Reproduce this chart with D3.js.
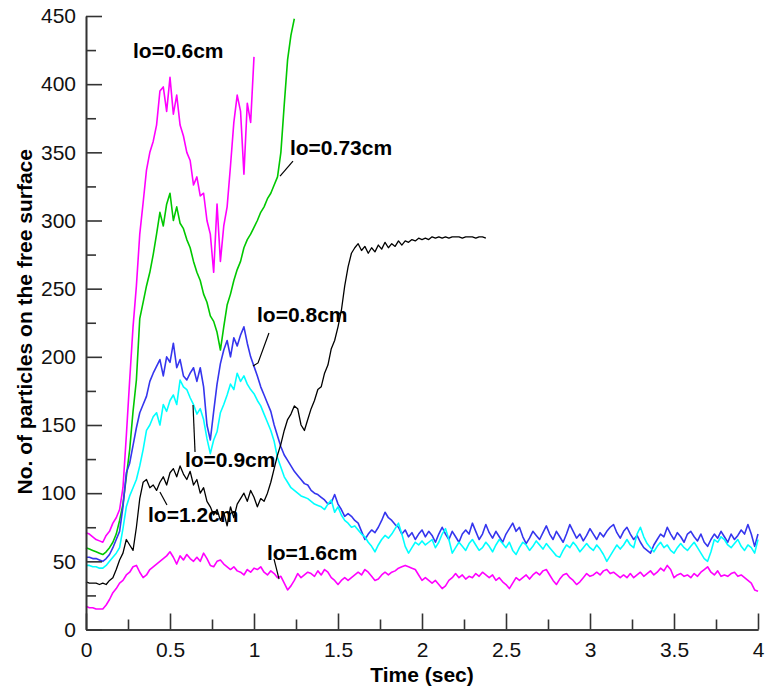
<!DOCTYPE html>
<html>
<head>
<meta charset="utf-8">
<script src="https://cdn.jsdelivr.net/npm/d3@7"></script>
<style>
  body { margin: 0; background: #fff; }
  text { font-family: "Liberation Sans", Arial, Helvetica, sans-serif; }
</style>
</head>
<body>
<div class="chart"></div>
<script>
// particles on the free surface vs time, one series per lo
// all series sampled every 0.02 s starting at t = 0
const dt = 0.02;

const lo06 = [71, 70, 68, 66, 65, 64, 69, 72, 78, 82, 88,
  104, 142, 183, 222, 252, 290, 313, 337, 350, 358,
  370, 395, 398, 380, 405, 378, 392, 370, 362, 350,
  344, 326, 332, 318, 320, 300, 290, 262, 312, 270,
  296, 310, 340, 372, 392, 380, 334, 386, 372, 420];

const lo073 = [60, 59, 58, 57, 56, 55, 57, 60, 64, 70, 80,
  92, 112, 132, 160, 183, 228, 240, 252, 262, 275,
  290, 306, 296, 312, 320, 300, 310, 298, 294, 286,
  280, 270, 262, 256, 246, 240, 230, 226, 218, 205,
  222, 238, 246, 256, 264, 270, 280, 286, 290, 295,
  300, 306, 310, 316, 320, 326, 332, 350, 385, 418,
  436, 448];

const lo08 = [53, 53, 52, 52, 51, 50, 52, 55, 60, 66, 72,
  90, 115, 122, 135, 148, 159, 165, 171, 182, 188,
  193, 198, 186, 200, 196, 210, 192, 198, 186, 183,
  188, 192, 182, 192, 178, 150, 139, 160, 180, 195,
  205, 212, 200, 214, 208, 216, 222, 210, 200, 193,
  186, 178, 172, 166, 160, 150, 142, 134, 128, 124,
  120, 116, 113, 110, 107, 106, 102, 100, 99, 97,
  95, 92, 93, 99, 92, 88, 83, 85, 83, 80,
  78, 72, 66, 70, 73, 71, 75, 80, 86, 82,
  80, 77, 75, 70, 73, 68, 71, 66, 70, 73,
  68, 72, 69, 64, 70, 75, 70, 66, 72, 68,
  64, 70, 73, 70, 78, 72, 66, 70, 77, 71,
  67, 72, 68, 64, 70, 74, 78, 72, 75, 68,
  63, 67, 72, 69, 66, 71, 76, 70, 66, 72,
  68, 64, 70, 77, 72, 67, 70, 65, 69, 74,
  70, 66, 71, 68, 72, 75, 77, 71, 67, 72,
  75, 70, 66, 69, 64, 60, 58, 56, 62, 66,
  70, 68, 75, 70, 66, 71, 68, 64, 70, 72,
  68, 65, 70, 64, 61, 66, 70, 67, 72, 68,
  64, 70, 66, 69, 73, 70, 77, 70, 61, 70];

const lo09 = [47, 47, 46, 46, 45, 45, 47, 50, 53, 56, 60,
  74, 90, 98, 104, 110, 120, 132, 146, 150, 156,
  159, 150, 165, 160, 168, 172, 165, 183, 178, 176,
  170, 165, 158, 162, 154, 140, 129, 139, 145, 159,
  165, 172, 180, 176, 188, 182, 186, 180, 176, 173,
  168, 164, 158, 152, 146, 138, 126, 119, 112, 108,
  104, 102, 100, 98, 97, 96, 94, 92, 91, 90,
  88, 92, 95, 86, 90, 84, 80, 78, 75, 76,
  73, 70, 68, 64, 61, 57, 62, 66, 69, 67,
  70, 74, 78, 70, 61, 56, 60, 64, 62, 65,
  62, 64, 66, 60, 64, 70, 74, 66, 56, 60,
  64, 61, 58, 63, 66, 62, 58, 60, 64, 61,
  57, 62, 66, 63, 60, 64, 58, 55, 60, 64,
  62, 58, 61, 65, 62, 59, 63, 60, 57, 54,
  53, 58, 62, 60, 64, 61, 57, 60, 63, 60,
  58, 62, 59, 55, 50, 54, 58, 62, 59, 62,
  66, 62, 60, 70, 75, 68, 63, 60, 57, 61,
  64, 60, 62, 58, 56, 60, 63, 60, 58, 61,
  64, 60, 56, 52, 50, 57, 66, 64, 68, 66,
  62, 60, 63, 66, 61, 58, 62, 60, 56, 66];

const lo12 = [35, 34, 34, 34, 33, 34, 33, 36, 38, 44, 51,
  56, 66, 62, 58, 75, 96, 108, 110, 104, 106,
  102, 108, 112, 106, 115, 118, 112, 120, 114, 110,
  116, 106, 110, 100, 104, 94, 90, 84, 88, 80,
  86, 76, 90, 82, 92, 96, 100, 94, 102, 97,
  90, 96, 94, 100, 108, 118, 128, 136, 146, 154,
  158, 164, 162, 150, 146, 154, 162, 168, 176, 178,
  188, 194, 206, 212, 222, 234, 252, 266, 276, 280,
  283, 278, 281, 276, 280, 277, 282, 279, 284, 280,
  283, 281, 285, 282, 285, 284, 286, 285, 287, 286,
  287, 286, 288, 287, 288, 287, 288, 287, 288, 288,
  288, 287, 288, 288, 288, 287, 288, 288, 287];

const lo16 = [17, 16, 16, 15, 15, 15, 18, 22, 27, 30, 34,
  36, 40, 42, 46, 47, 42, 38, 40, 44, 46,
  48, 50, 52, 54, 57, 53, 48, 54, 51, 55,
  52, 50, 53, 50, 56, 52, 47, 46, 50, 51,
  48, 46, 44, 46, 43, 42, 40, 44, 42, 45,
  44, 46, 42, 40, 43, 41, 38, 39, 34, 29,
  32, 36, 41, 38, 40, 42, 41, 39, 43, 40,
  44, 42, 38, 36, 33, 36, 38, 36, 38, 40,
  42, 40, 44, 42, 39, 36, 37, 40, 42, 40,
  42, 43, 45, 46, 47, 46, 45, 44, 40, 36,
  38, 36, 34, 36, 33, 30, 32, 36, 38, 41,
  38, 40, 37, 39, 38, 41, 39, 42, 40, 38,
  40, 36, 38, 35, 33, 30, 34, 38, 36, 38,
  40, 37, 40, 42, 40, 43, 44, 40, 36, 33,
  37, 40, 41, 38, 36, 33, 35, 38, 41, 39,
  40, 42, 40, 43, 44, 41, 42, 40, 38, 40,
  38, 41, 38, 40, 42, 39, 41, 43, 40, 42,
  45, 43, 47, 44, 38, 40, 41, 39, 40, 38,
  41, 39, 42, 44, 46, 42, 40, 43, 39, 40,
  39, 41, 42, 39, 40, 38, 36, 34, 29, 28];

const seriesNames = ["lo=0.6cm", "lo=0.73cm", "lo=0.8cm", "lo=0.9cm", "lo=1.2cm", "lo=1.6cm"];
const seriesValues = [lo06, lo073, lo08, lo09, lo12, lo16];
const seriesColors = ["#ff00ff", "#00c800", "#3535ee", "#00ffff", "#000000", "#ff00ff"];

// label anchors (time, count) and leader lines in data units
const labelPos = [[0.28, 419], [1.214, 348], [1.018, 225.6], [0.589, 119.2], [0.369, 78.9], [1.077, 51]];
const leaders = [
  null,
  [[1.232, 343.6], [1.155, 332.6]],
  [[1.089, 217.5], [1.024, 195.5], [0.994, 193.3]],
  [[0.637, 164.7], [0.649, 130.2]],
  [[0.44, 100.9], [0.482, 91.3]],
  [[1.119, 51.7], [1.149, 37.0]]
];

const xTicks = [0, 0.5, 1, 1.5, 2, 2.5, 3, 3.5, 4];
const xTickLabels = ["0", "0.5", "1", "1.5", "2", "2.5", "3", "3.5", "4"];
const xMinor = [0.25, 0.75, 1.25, 1.75, 2.25, 2.75, 3.25, 3.75];
const yTicks = [0, 50, 100, 150, 200, 250, 300, 350, 400, 450];
const yMinor = [25, 75, 125, 175, 225, 275, 325, 375, 425];

const width = 765, height = 689;
const margin = { top: 16, right: 7, bottom: 59.5, left: 86 };

const svg = d3.select(".chart")
  .append("svg")
  .attr("width", width)
  .attr("height", height);

const xScale = d3.scaleLinear().domain([0, 4]).range([margin.left, width - margin.right]);
const yScale = d3.scaleLinear().domain([0, 450]).range([height - margin.bottom, margin.top]);

// series first, axes drawn on top
const line = d3.line()
  .x((d, i) => xScale(i * dt))
  .y((d) => yScale(d));

svg.append("g")
  .attr("class", "series")
  .selectAll("path")
  .data(seriesValues)
  .join("path")
  .attr("fill", "none")
  .attr("stroke", (d, i) => seriesColors[i])
  .attr("stroke-width", (d, i) => (i === 4 ? 1.3 : 1.6))
  .attr("stroke-linejoin", "round")
  .attr("d", line);

// axes: ticks point inward
const axisColor = "#333";
svg.append("g")
  .attr("transform", `translate(${margin.left},0)`)
  .call(d3.axisLeft(yScale).tickValues(yTicks).tickSize(-16).tickPadding(10).tickSizeOuter(0));
svg.append("g")
  .attr("transform", `translate(${margin.left},0)`)
  .call(d3.axisLeft(yScale).tickValues(yMinor).tickSize(-10).tickFormat("").tickSizeOuter(0));

svg.append("g")
  .attr("transform", `translate(0,${height - margin.bottom})`)
  .call(d3.axisBottom(xScale).tickValues(xTicks).tickSize(-16).tickPadding(12.5).tickSizeOuter(0)
    .tickFormat((d, i) => xTickLabels[i]));
svg.append("g")
  .attr("transform", `translate(0,${height - margin.bottom})`)
  .call(d3.axisBottom(xScale).tickValues(xMinor).tickSize(-10).tickFormat("").tickSizeOuter(0));

svg.selectAll(".domain, .tick line")
  .attr("stroke", axisColor)
  .attr("stroke-width", 1.6);
svg.selectAll(".tick text")
  .attr("fill", "#111")
  .style("font-size", "21px")
  .style("font-family", "'Liberation Sans', Arial, sans-serif");

// axis titles
svg.append("text")
  .attr("x", (xScale(0) + xScale(4)) / 2)
  .attr("y", 682)
  .style("text-anchor", "middle")
  .style("font-size", "21px")
  .style("font-weight", "bold")
  .text("Time (sec)");

svg.append("text")
  .attr("transform", `translate(32, ${yScale(225) - 1}) rotate(-90)`)
  .style("text-anchor", "middle")
  .style("font-size", "21px")
  .style("font-weight", "bold")
  .text("No. of particles on the free surface");

// series labels with leader lines
svg.append("g")
  .selectAll("text")
  .data(seriesNames)
  .join("text")
  .attr("x", (d, i) => xScale(labelPos[i][0]))
  .attr("y", (d, i) => yScale(labelPos[i][1]))
  .style("font-size", "21px")
  .style("font-weight", "bold")
  .text((d) => d);

svg.append("g")
  .selectAll("path")
  .data(leaders.filter((d) => d))
  .join("path")
  .attr("fill", "none")
  .attr("stroke", "#000")
  .attr("stroke-width", 1.2)
  .attr("d", d3.line().x((d) => xScale(d[0])).y((d) => yScale(d[1])));
</script>
</body>
</html>
